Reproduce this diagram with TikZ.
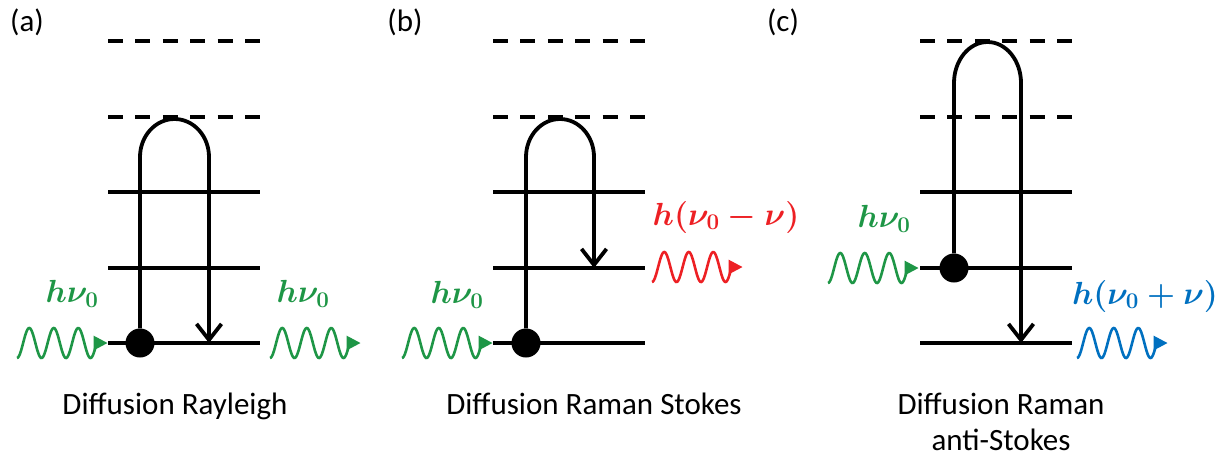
\RequirePackage{fix-cm}
\documentclass[tikz,border=0pt]{standalone}
\usepackage{amsmath}
\usepackage{fontspec}
\setmainfont{Carlito}
\usepackage{tikz}
\usetikzlibrary{arrows.meta}

\definecolor{photongreen}{RGB}{30,150,70}
\definecolor{photonred}{RGB}{237,32,36}
\definecolor{photonblue}{RGB}{0,112,192}

\tikzset{
  level/.style={line width=3.8pt},
  virtual/.style={line width=3.8pt,dash pattern=on 15pt off 12.4pt},
  transition/.style={line width=3.8pt,-{Straight Barb[length=16pt,width=25pt]}},
  electron/.style={shape=circle,fill=black,inner sep=0pt,minimum size=29pt},
  wave/.style={line width=2.6pt,-{Triangle[length=14pt,width=14pt]}},
  energy/.style={font=\fontsize{32}{38}\selectfont,inner sep=1pt},
  panel/.style={font=\fontsize{31}{37}\selectfont},
  caption/.style={font=\fontsize{31}{36}\selectfont,align=center,inner sep=1pt},
}

% photon: start x, centre y, colour
\newcommand{\photon}[3]{%
  \draw[wave,#3] plot[domain=0:3.25,samples=90,smooth]
    ({#1+24.5*\x},{#2+15*cos(360*\x)}) -- ++(11,0);}

\begin{document}
\begin{tikzpicture}[x=1pt,y=-1pt]
  \useasboundingbox (0,0) rectangle (1217,455);

  % energy levels
  \foreach \x in {108,493,920} {
    \draw[virtual] (\x,41) -- ++(152,0);
    \draw[virtual] (\x,117) -- ++(152,0);
    \draw[level] (\x,192) -- ++(152,0);
    \draw[level] (\x,268) -- ++(152,0);
    \draw[level] (\x,343) -- ++(152,0);
  }

  % (a) Rayleigh
  \node[panel] (la) at (27,22) {(a)};
  \node[electron] (ea) at (140,343) {};
  \coordinate (fa) at (209,343);
  \draw[transition] (ea) -- (140,157)
    arc[start angle=180,end angle=360,x radius=34.5,y radius=38] -- (fa);
  \photon{17}{343}{photongreen}
  \photon{270}{343}{photongreen}
  \node[energy,text=photongreen] (ia) at (72,294) {$\boldsymbol{h\nu_0}$};
  \node[energy,text=photongreen] (oa) at (303,294) {$\boldsymbol{h\nu_0}$};
  \node[caption,anchor=base] (ca) at (175,414) {Diffusion Rayleigh};

  % (b) Stokes
  \node[panel] (lb) at (405,22) {(b)};
  \node[electron] (eb) at (526,343) {};
  \coordinate (fb) at (594,268);
  \draw[transition] (eb) -- (526,157)
    arc[start angle=180,end angle=360,x radius=34,y radius=38] -- (fb);
  \photon{402}{343}{photongreen}
  \photon{652}{267}{photonred}
  \node[energy,text=photongreen] (ib) at (457,295) {$\boldsymbol{h\nu_0}$};
  \node[energy,text=photonred] (ob) at (726,217) {$\boldsymbol{h(\nu_0-\nu)}$};
  \node[caption,anchor=base] (cb) at (594,414) {Diffusion Raman Stokes};

  % (c) anti-Stokes
  \node[panel] (lc) at (783,22) {(c)};
  \node[electron] (ec) at (954,268) {};
  \coordinate (fc) at (1021,343);
  \draw[transition] (ec) -- (954,83)
    arc[start angle=180,end angle=360,x radius=33.5,y radius=41] -- (fc);
  \photon{828}{268}{photongreen}
  \photon{1077}{343}{photonblue}
  \node[energy,text=photongreen] (ic) at (884,219) {$\boldsymbol{h\nu_0}$};
  \node[energy,text=photonblue] (oc) at (1145,296) {$\boldsymbol{h(\nu_0+\nu)}$};
  \node[caption,anchor=base] (cc) at (1001,450) {Diffusion Raman\\anti-Stokes};
\end{tikzpicture}
\end{document}
